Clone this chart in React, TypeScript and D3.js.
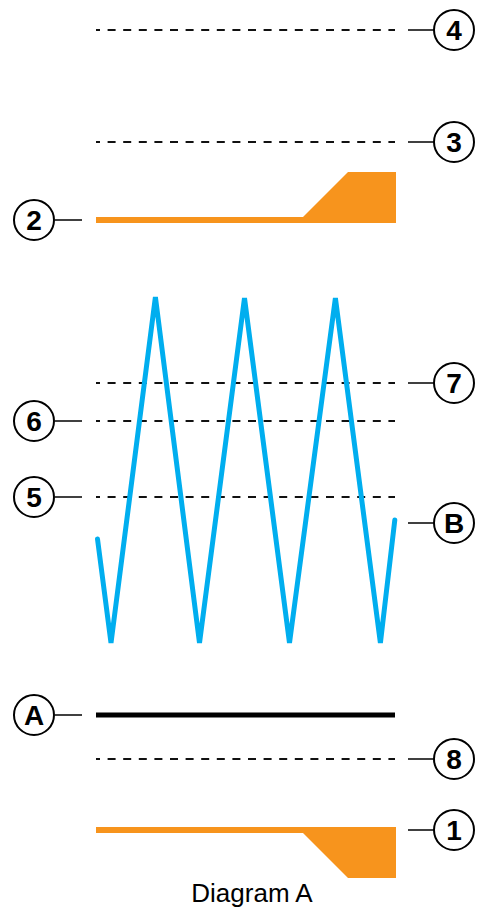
import React from "react";
import * as d3 from "d3";

// Horizontal time axis (0..100) and a vertical level axis (0..850, up)
const dashedLevels = [
  { id: "4", level: 850, side: "right" },
  { id: "3", level: 738, side: "right" },
  { id: "7", level: 497, side: "right" },
  { id: "6", level: 459, side: "left" },
  { id: "5", level: 383, side: "left" },
  { id: "8", level: 121, side: "right" },
];

const solidLevelA = { id: "A", level: 165, side: "left" };

// Blue zigzag (signal B)
const zigzagX = [0.5, 5, 19.8, 34.5, 49.5, 64.5, 79.8, 94.8, 99.6];
const zigzagY = [341, 237, 583, 237, 582, 237, 582, 237, 360];
const labelB = { id: "B", level: 357, side: "right" };

// Orange shape 2 (upper): top edge / bottom edge
const orange2X = [0, 69, 84, 100];
const orange2Top = [663, 663, 708, 708];
const orange2Bottom = [657, 657, 657, 657];
const label2 = { id: "2", level: 660, side: "left" };

// Orange shape 1 (lower)
const orange1X = [0, 69, 84, 100];
const orange1Top = [53, 53, 53, 53];
const orange1Bottom = [47, 47, 2, 2];
const label1 = { id: "1", level: 50, side: "right" };

const title = "Diagram A";

const W = 477;
const H = 909;

export default function App() {
  const x = d3.scaleLinear().domain([0, 100]).range([96, 396]);
  const y = d3.scaleLinear().domain([0, 850]).range([880, 30]);

  const zig = d3
    .line<number>()
    .x((_, i) => x(zigzagX[i]))
    .y((d) => y(d));

  const area = (xs: number[], top: number[], bottom: number[]) =>
    d3
      .area<number>()
      .x((d) => x(d))
      .y0((_, i) => y(bottom[i]))
      .y1((_, i) => y(top[i]))(xs) as string;

  const labels = [...dashedLevels, solidLevelA, labelB, label2, label1];

  const renderLabel = (l: { id: string; level: number; side: string }) => {
    const cy = y(l.level);
    const right = l.side === "right";
    const cx = right ? 454 : 34;
    const x1 = right ? 408 : 55;
    const x2 = right ? 434 : 82;
    return (
      <g key={"lbl" + l.id}>
        <line x1={x1} x2={x2} y1={cy} y2={cy} stroke="#000" strokeWidth={1.5} />
        <circle cx={cx} cy={cy} r={20} fill="#fff" stroke="#000" strokeWidth={2} />
        <text
          x={cx}
          y={cy + 10}
          textAnchor="middle"
          fontFamily="Liberation Sans, Arial, sans-serif"
          fontWeight="bold"
          fontSize={28}
          fill="#000"
        >
          {l.id}
        </text>
      </g>
    );
  };

  return (
    <svg
      width={W}
      height={H}
      style={{ position: "absolute", left: 0, top: 0, background: "#fff" }}
    >
      {dashedLevels.map((d) => (
        <line
          key={"dl" + d.id}
          x1={x(0)}
          x2={x(100) - 1}
          y1={y(d.level)}
          y2={y(d.level)}
          stroke="#111"
          strokeWidth={2}
          strokeDasharray="8 7.6"
          strokeDashoffset={4}
        />
      ))}
      <line
        x1={x(0)}
        x2={x(100) - 1}
        y1={y(solidLevelA.level)}
        y2={y(solidLevelA.level)}
        stroke="#000"
        strokeWidth={5}
      />
      <path d={area(orange2X, orange2Top, orange2Bottom)} fill="#F7941D" />
      <path d={area(orange1X, orange1Top, orange1Bottom)} fill="#F7941D" />
      <path
        d={zig(zigzagY) as string}
        fill="none"
        stroke="#00AEEF"
        strokeWidth={5}
        strokeLinecap="round"
        strokeLinejoin="miter"
        strokeMiterlimit={4}
      />
      {labels.map(renderLabel)}
      <text
        x={252}
        y={902}
        textAnchor="middle"
        fontFamily="Liberation Sans, Arial, sans-serif"
        fontSize={26}
        fill="#000"
      >
        {title}
      </text>
    </svg>
  );
}
